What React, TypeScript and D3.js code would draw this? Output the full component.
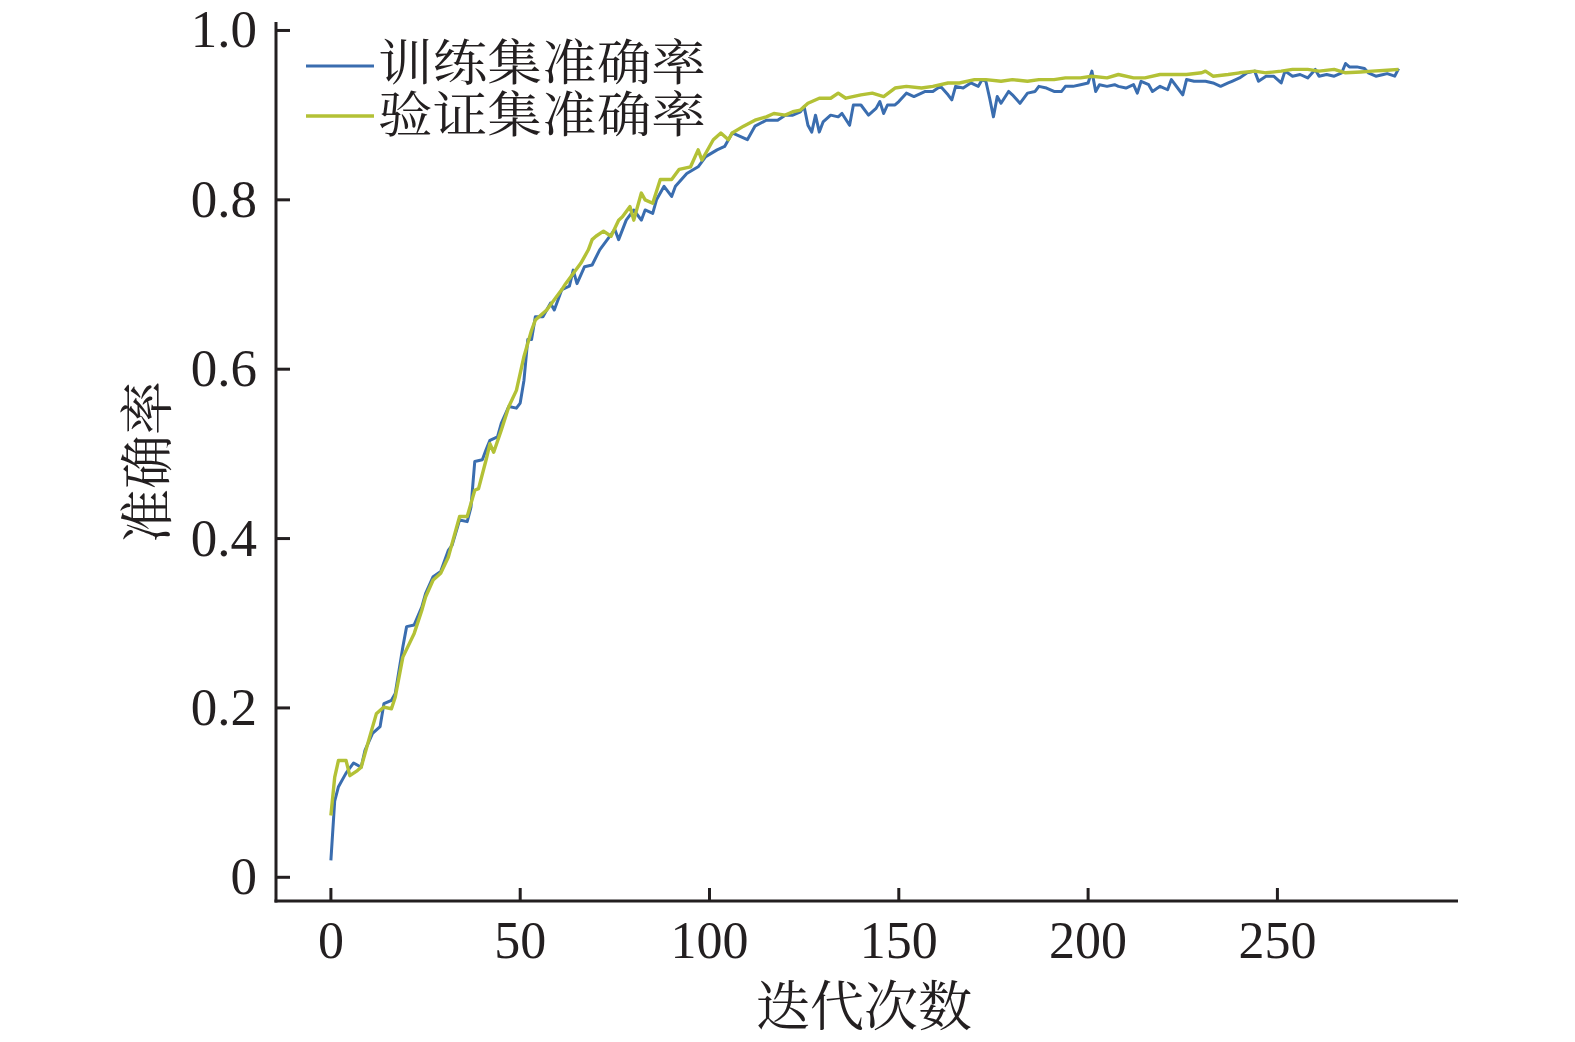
import React from "react";
import * as d3 from "d3";

// ---- data ----
const trainIter = [0,1,2,4,6,8,9,11,13,14,16,17,19,20,22,24,25,27,29,31,32,34,36,37,38,40,41,42,44,45,47,49,50,51,52,53,54,56,58,59,61,63,64,65,67,69,71,73,75,76,78,80,82,83,85,86,88,90,91,94,97,99,102,104,106,110,112,115,118,120,122,124,125,126,127,128,129,130,132,134,135,137,138,140,142,144,145,146,147,149,150,152,154,156,157,159,161,163,164,165,167,169,171,172,173,174,175,176,177,179,180,182,184,186,187,189,191,193,194,196,198,200,201,202,203,205,207,208,210,212,213,214,216,217,219,221,222,224,225,226,228,230,231,233,235,237,238,240,242,244,245,247,249,251,252,254,256,258,260,261,263,265,267,268,269,271,273,274,276,278,279,281,282];
const trainAcc = [0.020,0.090,0.107,0.123,0.135,0.130,0.150,0.170,0.178,0.205,0.209,0.217,0.272,0.296,0.298,0.319,0.335,0.355,0.361,0.386,0.392,0.422,0.420,0.437,0.491,0.493,0.505,0.516,0.520,0.536,0.556,0.554,0.560,0.587,0.635,0.635,0.662,0.662,0.678,0.670,0.694,0.698,0.717,0.701,0.721,0.723,0.741,0.753,0.765,0.753,0.776,0.788,0.776,0.788,0.784,0.800,0.816,0.804,0.816,0.831,0.839,0.851,0.859,0.863,0.879,0.871,0.887,0.894,0.894,0.900,0.900,0.904,0.910,0.888,0.880,0.900,0.880,0.892,0.900,0.898,0.902,0.888,0.912,0.912,0.900,0.908,0.916,0.902,0.912,0.912,0.916,0.926,0.922,0.926,0.928,0.928,0.934,0.924,0.918,0.934,0.932,0.938,0.934,0.942,0.940,0.920,0.898,0.922,0.914,0.928,0.924,0.914,0.926,0.928,0.934,0.932,0.928,0.928,0.934,0.934,0.936,0.938,0.952,0.928,0.936,0.934,0.936,0.934,0.932,0.936,0.926,0.940,0.936,0.928,0.934,0.930,0.942,0.930,0.924,0.942,0.940,0.940,0.940,0.938,0.934,0.938,0.940,0.944,0.950,0.952,0.940,0.946,0.946,0.938,0.952,0.946,0.948,0.944,0.954,0.946,0.948,0.946,0.950,0.961,0.957,0.957,0.955,0.950,0.946,0.948,0.949,0.946,0.955];

const valIter = [0,1,2,4,5,7,8,10,12,14,16,17,19,22,24,25,27,29,31,32,34,36,38,39,41,42,43,45,47,49,51,53,54,57,59,61,62,64,66,68,69,70,72,74,76,77,79,80,82,83,85,87,90,92,95,97,98,101,103,105,106,109,112,115,117,120,122,124,126,129,132,134,136,140,143,146,149,152,156,159,163,166,170,173,177,180,184,187,191,194,198,201,205,208,212,215,219,222,226,230,231,233,237,240,244,247,251,254,258,261,265,268,272,275,279,282];
const valAcc = [0.073,0.118,0.138,0.138,0.120,0.126,0.130,0.162,0.193,0.201,0.199,0.213,0.260,0.288,0.315,0.331,0.351,0.359,0.378,0.394,0.426,0.426,0.457,0.459,0.493,0.512,0.502,0.528,0.556,0.575,0.615,0.646,0.658,0.670,0.682,0.694,0.701,0.713,0.725,0.741,0.753,0.757,0.763,0.757,0.776,0.780,0.792,0.776,0.808,0.800,0.796,0.824,0.824,0.836,0.839,0.859,0.847,0.871,0.879,0.871,0.879,0.887,0.894,0.898,0.902,0.900,0.904,0.906,0.914,0.920,0.920,0.926,0.920,0.924,0.926,0.922,0.932,0.934,0.932,0.934,0.938,0.938,0.942,0.942,0.940,0.942,0.940,0.942,0.942,0.944,0.944,0.946,0.944,0.948,0.944,0.944,0.948,0.948,0.948,0.950,0.952,0.946,0.948,0.950,0.952,0.950,0.952,0.954,0.954,0.952,0.954,0.950,0.951,0.952,0.953,0.954];

const xTicks = [0, 50, 100, 150, 200, 250];
const yTicks = [0, 0.2, 0.4, 0.6, 0.8, 1.0];
const seriesNames = ["训练集准确率", "验证集准确率"];
const xTitle = "迭代次数";
const yTitle = "准确率";

const W = 1575;
const H = 1042;
const BLUE = "#3a6daf";
const GREEN = "#b3c136";
const INK = "#231f20";
const NUM_FONT = "'Liberation Serif', 'Times New Roman', serif";
const CJK_FONT = "'Noto Serif CJK SC', 'Noto Sans CJK SC', serif";

export default function App() {
  const x = d3.scaleLinear().domain([-14.5, 297.7]).range([276, 1458]);
  const y = d3.scaleLinear().domain([-0.028, 1.010]).range([901, 22]);

  const line = d3
    .line<[number, number]>()
    .x((d) => x(d[0]))
    .y((d) => y(d[1]));

  const train: [number, number][] = trainIter.map((t, i) => [t, trainAcc[i]]);
  const val: [number, number][] = valIter.map((t, i) => [t, valAcc[i]]);

  const [x0, x1] = x.range();
  const [y0, y1] = y.range();

  return (
    <svg
      width={W}
      height={H}
      viewBox={`0 0 ${W} ${H}`}
      style={{ position: "absolute", left: 0, top: 0, display: "block", background: "#fff" }}
    >
      {/* data lines */}
      <path d={line(train) || ""} fill="none" stroke={BLUE} strokeWidth={3} strokeLinejoin="round" />
      <path d={line(val) || ""} fill="none" stroke={GREEN} strokeWidth={3.4} strokeLinejoin="round" />

      {/* axes */}
      <line x1={x0} x2={x0} y1={y1} y2={y0 + 1.5} stroke={INK} strokeWidth={3} />
      <line x1={x0 - 1.5} x2={x1} y1={y0} y2={y0} stroke={INK} strokeWidth={3} />

      {yTicks.map((t) => (
        <g key={"y" + t}>
          <line x1={x0} x2={x0 + 14} y1={y(t)} y2={y(t)} stroke={INK} strokeWidth={3} />
          <text
            x={257}
            y={y(t)}
            dy="0.32em"
            textAnchor="end"
            fontFamily={NUM_FONT}
            fontSize={53}
            fill={INK}
          >
            {t === 0 ? "0" : t.toFixed(1)}
          </text>
        </g>
      ))}

      {xTicks.map((t) => (
        <g key={"x" + t}>
          <line x1={x(t)} x2={x(t)} y1={y0} y2={y0 - 13} stroke={INK} strokeWidth={3} />
          <text
            x={x(t)}
            y={958}
            textAnchor="middle"
            fontFamily={NUM_FONT}
            fontSize={52}
            fill={INK}
          >
            {t}
          </text>
        </g>
      ))}

      {/* axis titles */}
      <text x={864} y={1026} textAnchor="middle" fontFamily={CJK_FONT} fontSize={54} fill={INK}>
        {xTitle}
      </text>
      <text
        transform={`translate(${146 + 0.38 * 54},462) rotate(-90)`}
        textAnchor="middle"
        fontFamily={CJK_FONT}
        fontSize={54}
        fill={INK}
      >
        {yTitle}
      </text>

      {/* legend */}
      {seriesNames.map((name, i) => {
        const ly = i === 0 ? 66 : 116;
        const ty = i === 0 ? 80 : 132;
        return (
          <g key={name}>
            <line x1={306} x2={374} y1={ly} y2={ly} stroke={i === 0 ? BLUE : GREEN} strokeWidth={i === 0 ? 3 : 3.4} />
            <text
              x={378}
              y={ty}
              fontFamily={CJK_FONT}
              fontSize={49}
              textLength={328}
              lengthAdjust="spacingAndGlyphs"
              fill={INK}
            >
              {name}
            </text>
          </g>
        );
      })}
    </svg>
  );
}
